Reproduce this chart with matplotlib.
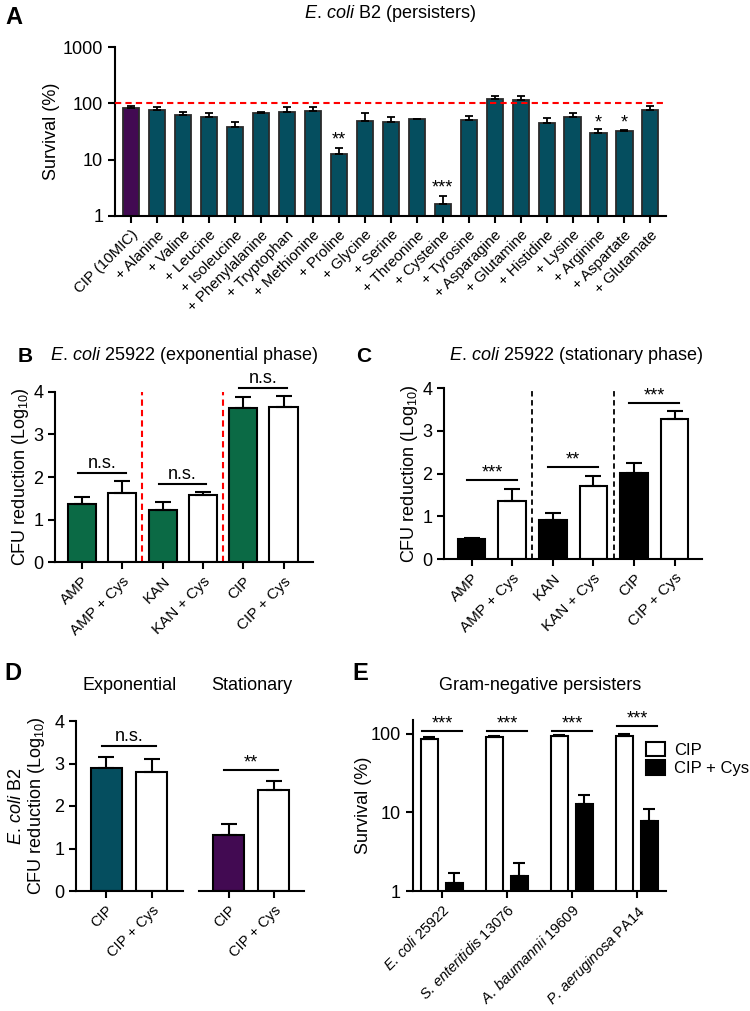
import matplotlib
matplotlib.use('Agg')
import matplotlib.pyplot as plt
import numpy as np

plt.rcParams.update({
    'font.family': ['Liberation Sans', 'DejaVu Sans'],
    'mathtext.fontset': 'custom',
    'mathtext.rm': 'Liberation Sans',
    'mathtext.it': 'Liberation Sans:italic',
    'mathtext.bf': 'Liberation Sans:bold',
    'font.size': 13,
    'axes.linewidth': 1.5,
    'xtick.major.width': 1.5, 'ytick.major.width': 1.5,
    'xtick.major.size': 5, 'ytick.major.size': 5,
    'xtick.labelsize': 11, 'ytick.labelsize': 13,
})

TEAL = '#054e5f'
PURPLE = '#420a52'
GREEN = '#0b6a45'

# ---- panel A: E. coli B2 persisters
a_labels = ['CIP (10MIC)', '+ Alanine', '+ Valine', '+ Leucine', '+ Isoleucine',
            '+ Phenylalanine', '+ Tryptophan', '+ Methionine', '+ Proline', '+ Glycine',
            '+ Serine', '+ Threonine', '+ Cysteine', '+ Tyrosine', '+ Asparagine',
            '+ Glutamine', '+ Histidine', '+ Lysine', '+ Arginine', '+ Aspartate',
            '+ Glutamate']
a_mean = [82, 76, 61, 57, 38, 67, 69, 73, 12.8, 49, 46, 52, 1.64, 51, 118, 114, 44, 57, 29.6, 32.5, 76]
a_upper = [91, 85, 71, 66, 47, 69, 85, 87, 15.8, 66, 57, 53, 2.24, 60, 136, 136, 54, 67, 34.7, 33.3, 91]
a_star_idx = [8, 12, 18, 19]
a_star_text = ['**', '***', '*', '*']
a_star_y = [22, 3.1, 44, 44]

# ---- panel B / C: E. coli 25922
bc_labels = ['AMP', 'AMP + Cys', 'KAN', 'KAN + Cys', 'CIP', 'CIP + Cys']
b_mean = [1.36, 1.63, 1.23, 1.57, 3.61, 3.65]
b_upper = [1.52, 1.91, 1.41, 1.65, 3.87, 3.91]
b_sig_y = [2.09, 1.83, 4.08]
b_sig_text = ['n.s.', 'n.s.', 'n.s.']
c_mean = [0.46, 1.36, 0.91, 1.70, 2.01, 3.27]
c_upper = [0.50, 1.64, 1.07, 1.95, 2.25, 3.46]
c_sig_y = [1.84, 2.15, 3.65]
c_sig_text = ['***', '**', '***']

# ---- panel D: E. coli B2 exponential vs stationary
d_labels = ['CIP', 'CIP + Cys']
d_exp_mean = [2.90, 2.81]
d_exp_upper = [3.15, 3.11]
d_sta_mean = [1.32, 2.37]
d_sta_upper = [1.58, 2.60]
d_sig_y = [3.41, 2.85]
d_sig_text = ['n.s.', '**']

# ---- panel E: Gram-negative persisters
e_strains = [r'$\mathit{E.\,coli}$ 25922', r'$\mathit{S.\,enteritidis}$ 13076',
             r'$\mathit{A.\,baumannii}$ 19609', r'$\mathit{P.\,aeruginosa}$ PA14']
e_cip = [87, 91.6, 93, 95]
e_cip_upper = [91.6, 95, 97, 100]
e_cys = [1.26, 1.55, 12.9, 7.8]
e_cys_upper = [1.71, 2.26, 16.5, 11.1]
e_sig_y = [108, 108, 108, 125]

ECOLI = r'$\mathit{E.\,coli}$'

W, H = 750, 1011
fig = plt.figure(figsize=(W / 100, H / 100), dpi=100)


def px_axes(left, right, top, bottom):
    return fig.add_axes([left / W, 1 - bottom / H, (right - left) / W, (bottom - top) / H])


def clean(ax, yaxis=True):
    ax.spines['top'].set_visible(False)
    ax.spines['right'].set_visible(False)
    if not yaxis:
        ax.spines['left'].set_visible(False)
        ax.tick_params(axis='y', left=False, labelleft=False)


def bars(ax, x, mean, upper, color, width, cap, lw=1.5, ec='k'):
    ax.bar(x, mean, width, color=color, edgecolor=ec, linewidth=lw, zorder=2)
    err = np.array(upper) - np.array(mean)
    ax.errorbar(x, mean, yerr=[np.zeros(len(err)), err], fmt='none', ecolor='k',
                elinewidth=lw, capsize=cap, capthick=lw, zorder=3)


def sig(ax, x0, x1, y, text):
    ax.plot([x0, x1], [y, y], color='k', lw=1.5, clip_on=False)
    off = -1 if '*' in text else 1
    ax.annotate(text, xy=((x0 + x1) / 2, y), xytext=(0, off), textcoords='offset points',
                ha='center', va='bottom', fontsize=13, annotation_clip=False)


def xlabels(ax, labels, size):
    ax.set_xticks(range(len(labels)))
    ax.set_xticklabels(labels, rotation=45, ha='right', rotation_mode='anchor', fontsize=size)


# ================= A
ax = px_axes(115, 666, 47, 216)
clean(ax)
ax.set_yscale('log')
x = np.arange(len(a_labels))
cols = [PURPLE] + [TEAL] * (len(a_labels) - 1)
bars(ax, x, a_mean, a_upper, cols, 0.62, 3, lw=1.3, ec='#2a2a2a')
ax.axhline(100, color='red', ls=(0, (3, 2)), lw=1.5, zorder=4)
for i, t, y in zip(a_star_idx, a_star_text, a_star_y):
    ax.text(i, y, t, ha='center', va='center', fontsize=13)
ax.set_ylim(1, 1000)
ax.set_xlim(-0.62, len(a_labels) - 0.4)
ax.set_yticks([1, 10, 100, 1000])
ax.set_yticklabels(['1', '10', '100', '1000'])
ax.minorticks_off()
xlabels(ax, a_labels, 10.8)
ax.set_ylabel('Survival (%)', fontsize=13)
ax.yaxis.set_label_coords(-0.1, 0.5)

# ================= B
ax = px_axes(55, 313, 391.7, 562.3)
clean(ax)
x = np.arange(6)
bars(ax, x, b_mean, b_upper, [GREEN, 'white'] * 3, 0.7, 6)
for xv in [1.5, 3.5]:
    ax.plot([xv, xv], [0, 4], color='red', ls=(0, (3, 2)), lw=1.5)
for k, (y, t) in enumerate(zip(b_sig_y, b_sig_text)):
    sig(ax, 2 * k - 0.1, 2 * k + 1.08, y, t)
ax.set_ylim(0, 4)
ax.set_xlim(-0.67, 5.73)
ax.set_yticks([0, 1, 2, 3, 4])
xlabels(ax, bc_labels, 11)
ax.set_ylabel(r'CFU reduction (Log$_{10}$)', fontsize=13)
ax.yaxis.set_label_coords(-0.093, 0.5)

# ================= C
ax = px_axes(444, 701.7, 388.3, 559)
clean(ax)
bars(ax, x, c_mean, c_upper, ['black', 'white'] * 3, 0.68, 6)
for xv in [1.5, 3.5]:
    ax.plot([xv, xv], [0, 4], color='black', ls=(0, (3, 2)), lw=1.3)
for k, (y, t) in enumerate(zip(c_sig_y, c_sig_text)):
    sig(ax, 2 * k - 0.12, 2 * k + 1.12, y, t)
ax.set_ylim(0, 4)
ax.set_xlim(-0.68, 5.67)
ax.set_yticks([0, 1, 2, 3, 4])
xlabels(ax, bc_labels, 11)
ax.set_ylabel(r'CFU reduction (Log$_{10}$)', fontsize=13)
ax.yaxis.set_label_coords(-0.093, 0.5)

# ================= D
x = np.arange(2)
ax = px_axes(76, 183, 721, 891)
clean(ax)
bars(ax, x, d_exp_mean, d_exp_upper, [TEAL, 'white'], 0.68, 5.5)
sig(ax, -0.1, 1.1, d_sig_y[0], d_sig_text[0])
ax.set_ylim(0, 4)
ax.set_xlim(-0.66, 1.68)
ax.set_yticks([0, 1, 2, 3, 4])
xlabels(ax, d_labels, 10.5)
ax.set_ylabel(ECOLI + ' B2\n' + r'CFU reduction (Log$_{10}$)', fontsize=13,
              linespacing=1.1)
ax.yaxis.set_label_coords(-0.27, 0.5)

ax = px_axes(199, 304, 721, 891)
clean(ax, yaxis=False)
bars(ax, x, d_sta_mean, d_sta_upper, [PURPLE, 'white'], 0.68, 5.5)
sig(ax, -0.11, 1.09, d_sig_y[1], d_sig_text[1])
ax.set_ylim(0, 4)
ax.set_xlim(-0.66, 1.67)
xlabels(ax, d_labels, 10.5)

# ================= E
ax = px_axes(412.7, 666, 720, 891)
clean(ax)
ax.set_yscale('log')
g = np.arange(4)
ax.bar(g - 0.19, e_cip, 0.26, color='white', edgecolor='k', linewidth=1.5, zorder=2, label='CIP')
ax.bar(g + 0.19, e_cys, 0.26, color='black', edgecolor='k', linewidth=1.5, zorder=2, label='CIP + Cys')
for xs, m, u in [(g - 0.19, e_cip, e_cip_upper), (g + 0.19, e_cys, e_cys_upper)]:
    err = np.array(u) - np.array(m)
    ax.errorbar(xs, m, yerr=[np.zeros(4), err], fmt='none', ecolor='k', elinewidth=1.5,
                capsize=4, capthick=1.5, zorder=3)
for k, y in enumerate(e_sig_y):
    sig(ax, k - 0.3, k + 0.31, y, '***')
ax.set_ylim(1, 150)
ax.set_xlim(-0.446, 3.45)
ax.set_yticks([1, 10, 100])
ax.set_yticklabels(['1', '10', '100'])
ax.minorticks_off()
ax.set_xticks(g)
ax.set_xticklabels(e_strains, rotation=45, ha='right', rotation_mode='anchor', fontsize=10.5)
ax.set_ylabel('Survival (%)', fontsize=13)
ax.yaxis.set_label_coords(-0.16, 0.5)
ax.legend(loc='upper left', bbox_to_anchor=(646 / W, 1 - 742 / H), bbox_transform=fig.transFigure,
          frameon=False, fontsize=12, handlelength=1.15, handleheight=0.95,
          handletextpad=0.55, borderaxespad=0, borderpad=0, labelspacing=0.15)

# ================= titles and panel letters
def ftext(xp, yp, s, **kw):
    fig.text(xp / W, 1 - yp / H, s, ha='center', va='center', **kw)


ftext(390, 13, ECOLI + ' B2 (persisters)', fontsize=13)
ftext(184, 356, ECOLI + ' 25922 (exponential phase)', fontsize=13)
ftext(576, 356, ECOLI + ' 25922 (stationary phase)', fontsize=13)
ftext(130, 686, 'Exponential', fontsize=13)
ftext(252, 686, 'Stationary', fontsize=13)
ftext(540, 686, 'Gram-negative persisters', fontsize=13)

ftext(14, 17, 'A', fontsize=17, fontweight='bold')
ftext(25, 356, 'B', fontsize=15, fontweight='bold')
ftext(364, 356, 'C', fontsize=15, fontweight='bold')
ftext(13, 673, 'D', fontsize=17, fontweight='bold')
ftext(360, 673, 'E', fontsize=17, fontweight='bold')

fig.savefig('out.png', dpi=100)
